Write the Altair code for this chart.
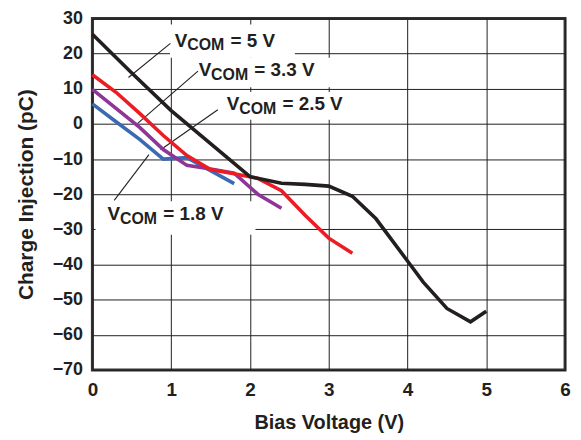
import altair as alt
import pandas as pd

# ---- data ----
bias_5 = [0, 0.5, 1.0, 1.5, 2.0, 2.4, 2.7, 3.0, 3.3, 3.6, 4.0, 4.2, 4.5, 4.8, 5.0]
q_5 = [25.5, 14.5, 3.8, -5.6, -15.0, -16.9, -17.2, -17.7, -20.6, -27.0, -39.0, -45.0, -52.5, -56.3, -53.3]

bias_33 = [0, 0.3, 0.6, 0.9, 1.2, 1.5, 1.8, 2.1, 2.4, 2.7, 3.0, 3.3]
q_33 = [14.0, 9.0, 3.0, -3.3, -9.0, -13.0, -14.2, -15.5, -19.0, -26.0, -32.5, -36.8]

bias_25 = [0, 0.3, 0.6, 0.9, 1.2, 1.5, 1.8, 2.1, 2.4]
q_25 = [9.8, 4.4, -1.0, -7.3, -11.8, -12.8, -14.0, -20.0, -24.0]

bias_18 = [0, 0.3, 0.6, 0.9, 1.2, 1.5, 1.8]
q_18 = [5.7, 0.6, -4.4, -10.0, -9.6, -13.3, -17.0]

series_names = ["1.8 V", "2.5 V", "3.3 V", "5 V"]
series_colors = ["#3b6ab3", "#8e3597", "#ed1c24", "#231f20"]

x_ticks = [0, 1, 2, 3, 4, 5, 6]
y_ticks = [-70, -60, -50, -40, -30, -20, -10, 0, 10, 20, 30]

# annotation labels (anchor of the "V", in data units) and leader lines
label_rest = ["= 5 V", "= 3.3 V", "= 2.5 V", "= 1.8 V"]
label_x = [1.046, 1.349, 1.706, 0.193]
label_y = [21.98, 13.6, 3.83, -27.35]
lead_x1 = [0.99, 1.34, 1.592, 0.718]
lead_y1 = [22.9, 15.0, 4.02, -8.74]
lead_x2 = [0.458, 0.571, 0.866, 0.277]
lead_y2 = [13.2, 0.1, -7.35, -21.76]

# white boxes behind labels (they break the grid in the reference)
box_x1 = [0.985, 1.32, 1.68, 0.04]
box_x2 = [2.57, 3.06, 3.24, 2.07]
box_y1 = [28.3, 18.8, 9.05, -22.0]
box_y2 = [18.8, 10.4, 1.2, -31.5]

FONT = "Liberation Sans"
INK = "#231f20"

xs = alt.Scale(domain=[0, 6], nice=False)
ys = alt.Scale(domain=[-70, 30], nice=False)

x_axis = alt.Axis(values=x_ticks, format="d", grid=True, gridColor=INK, gridWidth=1, gridOpacity=1,
                  ticks=False, domain=False, labelFont=FONT, labelFontSize=19,
                  labelFontWeight="bold", labelColor=INK, labelPadding=11, labelFlush=False,
                  labelOverlap=False,
                  title="Bias Voltage (V)", titleFont=FONT, titleFontSize=20,
                  titleFontWeight="bold", titleColor=INK, titlePadding=13)
y_axis = alt.Axis(values=y_ticks, format="d", grid=True, gridColor=INK, gridWidth=1, gridOpacity=1,
                  ticks=False, domain=False, labelFont=FONT, labelFontSize=18,
                  labelFontWeight="bold", labelColor=INK, labelPadding=10, labelFlush=False,
                  labelOverlap=False,
                  title="Charge Injection (pC)", titleFont=FONT, titleFontSize=21,
                  titleFontWeight="bold", titleColor=INK, titlePadding=16)


def X(field):
    return alt.X(field, type="quantitative", scale=xs, axis=x_axis)


def Y(field):
    return alt.Y(field, type="quantitative", scale=ys, axis=y_axis)


boxes = pd.DataFrame({"x1": box_x1, "x2": box_x2, "y1": box_y1, "y2": box_y2})
box_layer = alt.Chart(boxes).mark_rect(fill="white").encode(
    x=X("x1"), x2="x2", y=Y("y1"), y2="y2",
)

leads = pd.DataFrame({"x1": lead_x1, "y1": lead_y1, "x2": lead_x2, "y2": lead_y2})
lead_layer = alt.Chart(leads).mark_rule(color=INK, strokeWidth=1.1).encode(
    x=X("x1"), x2="x2", y=Y("y1"), y2="y2",
)

line_layers = []
for name, col, bx, qy in zip(series_names, series_colors,
                             [bias_18, bias_25, bias_33, bias_5],
                             [q_18, q_25, q_33, q_5]):
    df = pd.DataFrame({"bias": bx, "q": qy, "series": name})
    line_layers.append(
        alt.Chart(df).mark_line(color=col, strokeWidth=3.6, strokeJoin="miter").encode(
            x=X("bias"), y=Y("q"),
        )
    )

labels = pd.DataFrame({"x": label_x, "y": label_y, "rest": label_rest,
                       "v": ["V"] * 4, "sub": ["COM"] * 4})
t_common = dict(font=FONT, fontWeight="bold", color=INK, align="left", baseline="alphabetic")
t_v = alt.Chart(labels).mark_text(fontSize=19, **t_common).encode(
    x=X("x"), y=Y("y"), text="v:N")
t_sub = alt.Chart(labels).mark_text(fontSize=16, dx=12.5, dy=3.5, **t_common).encode(
    x=X("x"), y=Y("y"), text="sub:N")
t_rest = alt.Chart(labels).mark_text(fontSize=19, dx=56, **t_common).encode(
    x=X("x"), y=Y("y"), text="rest:N")

chart = alt.layer(box_layer, lead_layer, *line_layers, t_v, t_sub, t_rest).properties(
    width=476, height=354,
    autosize=alt.AutoSizeParams(type="none"),
    padding={"left": 85, "top": 9, "right": 8, "bottom": 68},
    background="white",
).configure_view(stroke="#333333", strokeWidth=3, fill="white")

chart.save("out.html", embed_options={"renderer": "svg", "actions": False})
